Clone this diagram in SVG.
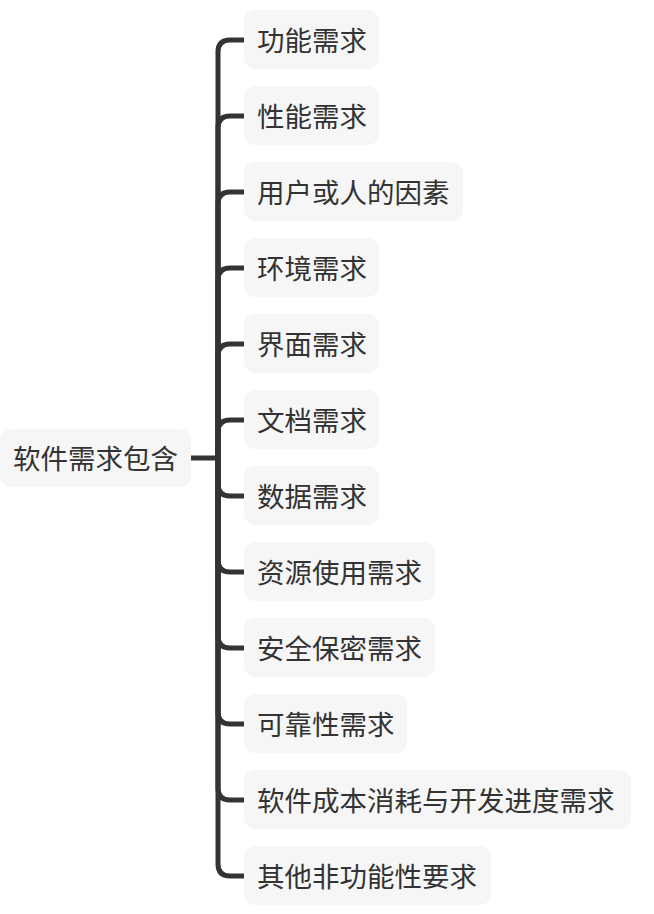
<svg xmlns="http://www.w3.org/2000/svg" width="654" height="914" viewBox="0 0 654 914">
<style>
.box{fill:#f6f6f6;}
.t{font-family:"Noto Sans CJK SC","Noto Sans",sans-serif;font-size:27.5px;fill:#333333;dominant-baseline:central;}
.c{fill:none;stroke:#333333;stroke-width:5;stroke-linecap:butt;}
</style>
<rect width="654" height="914" fill="#ffffff"/>
<g id="connectors">
<path class="c" d="M191 458 H218"/>
<path class="c" d="M218 458 V52 Q218 40 230 40 H244"/>
<path class="c" d="M218 458 V128 Q218 116 230 116 H244"/>
<path class="c" d="M218 458 V204 Q218 192 230 192 H244"/>
<path class="c" d="M218 458 V280 Q218 268 230 268 H244"/>
<path class="c" d="M218 458 V356 Q218 344 230 344 H244"/>
<path class="c" d="M218 458 V432 Q218 420 230 420 H244"/>
<path class="c" d="M218 458 V484 Q218 496 230 496 H244"/>
<path class="c" d="M218 458 V560 Q218 572 230 572 H244"/>
<path class="c" d="M218 458 V636 Q218 648 230 648 H244"/>
<path class="c" d="M218 458 V712 Q218 724 230 724 H244"/>
<path class="c" d="M218 458 V788 Q218 800 230 800 H244"/>
<path class="c" d="M218 458 V864 Q218 876 230 876 H244"/>
</g>
<g id="root"><rect class="box" x="0" y="429" width="191" height="58" rx="11"/><text class="t" x="13" y="456.5">软件需求包含</text></g>
<g id="n1"><rect class="box" x="244" y="10" width="135" height="59" rx="11"/><text class="t" x="257" y="38.5">功能需求</text></g>
<g id="n2"><rect class="box" x="244" y="86" width="135" height="59" rx="11"/><text class="t" x="257" y="114.5">性能需求</text></g>
<g id="n3"><rect class="box" x="244" y="162" width="219" height="59" rx="11"/><text class="t" x="257" y="190.5">用户或人的因素</text></g>
<g id="n4"><rect class="box" x="244" y="238" width="135" height="59" rx="11"/><text class="t" x="257" y="266.5">环境需求</text></g>
<g id="n5"><rect class="box" x="244" y="314" width="135" height="59" rx="11"/><text class="t" x="257" y="342.5">界面需求</text></g>
<g id="n6"><rect class="box" x="244" y="390" width="135" height="59" rx="11"/><text class="t" x="257" y="418.5">文档需求</text></g>
<g id="n7"><rect class="box" x="244" y="466" width="135" height="59" rx="11"/><text class="t" x="257" y="494.5">数据需求</text></g>
<g id="n8"><rect class="box" x="244" y="542" width="191" height="59" rx="11"/><text class="t" x="257" y="570.5">资源使用需求</text></g>
<g id="n9"><rect class="box" x="244" y="618" width="191" height="59" rx="11"/><text class="t" x="257" y="646.5">安全保密需求</text></g>
<g id="n10"><rect class="box" x="244" y="694" width="163" height="59" rx="11"/><text class="t" x="257" y="722.5">可靠性需求</text></g>
<g id="n11"><rect class="box" x="244" y="770" width="387" height="59" rx="11"/><text class="t" x="257" y="798.5">软件成本消耗与开发进度需求</text></g>
<g id="n12"><rect class="box" x="244" y="846" width="247" height="59" rx="11"/><text class="t" x="257" y="874.5">其他非功能性要求</text></g>
</svg>
